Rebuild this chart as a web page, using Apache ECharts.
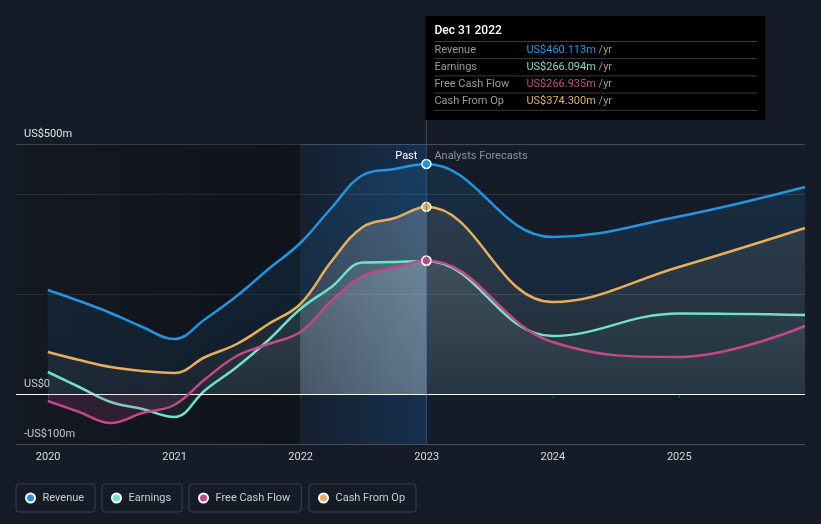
<!DOCTYPE html>
<html><head><meta charset="utf-8">
<script src="https://cdn.jsdelivr.net/npm/echarts@6/dist/echarts.min.js"></script>
<style>html,body{margin:0;padding:0;background:#161c27;}#c{width:821px;height:524px;}</style>
</head><body><div id="c"></div>
<script>
// ---- data ----
const dates = ['2019-12-31','2020-03-31','2020-06-30','2020-09-30','2020-12-31','2021-03-31','2021-06-30','2021-09-30','2021-12-31','2022-03-31','2022-06-30','2022-09-30','2022-12-31','2023-12-31','2024-12-31','2025-12-31'];
const revenue      = [208, 186, 162, 134, 110, 150, 196, 250, 302, 372, 438, 450, 460.113, 314, 355, 414];
const earnings     = [44, 14, -16, -30, -46, 8, 54, 108, 170, 214, 263, 264, 266.094, 116, 161, 158];
const freeCashFlow = [-14, -36, -58, -38, -22, 30, 76, 100, 124, 186, 236, 252, 266.935, 104, 74, 136];
const cashFromOp   = [84, 68, 54, 46, 42, 74, 100, 140, 180, 265, 334, 352, 374.3, 184, 254, 332];
const seriesNames = ['Revenue', 'Earnings', 'Free Cash Flow', 'Cash From Op'];
const xTickYears = [2020, 2021, 2022, 2023, 2024, 2025];
const yLabelMap = {'-100': '-US$100m', '0': 'US$0', '500': 'US$500m'};
const axisStart = '2019-09-30', axisEnd = '2025-12-31';
const bandStart = '2022-01-01', pastEnd = '2022-12-31';
const pastIdx = dates.indexOf(pastEnd);

// ---- helpers ----
const t = s => +new Date(s + 'T00:00:00');
const t0 = t(dates[0]), tN = t(dates[dates.length - 1]);
const f1 = (t(bandStart) - t0) / (tN - t0), f2 = (t(pastEnd) - t0) / (tN - t0);
function hgrad(b1, b2) {
  const none = 'rgba(255,255,255,0)';
  return new echarts.graphic.LinearGradient(0, 0, 1, 0, [
    {offset: 0, color: none}, {offset: f1 - 0.001, color: none},
    {offset: f1, color: b1}, {offset: f2, color: b2},
    {offset: Math.min(1, f2 + 0.001), color: none}, {offset: 1, color: none}]);
}
function vgrad(arr, top, mid, neg) {
  const mx = Math.max(0, ...arr), mn = Math.min(0, ...arr);
  const z = (mx - 0) / (mx - mn);
  const stops = [{offset: 0, color: top}, {offset: z, color: mid}];
  if (z < 1) { stops.push({offset: z + 0.0001, color: neg}, {offset: 1, color: neg}); }
  return new echarts.graphic.LinearGradient(0, 0, 0, 1, stops);
}
const C = {rev: '#2394e0', ern: '#6fe3c8', fcf: '#c4478a', cfo: '#e8ae5c'};
const pts = arr => dates.map((d, i) => [t(d), arr[i]]);
function mk(name, arr, color, area, z) {
  return {
    name, type: 'line', z, data: pts(arr),
    smooth: 0.4, symbol: 'circle', showAllSymbol: true,
    symbolSize: (v, p) => p.dataIndex === pastIdx ? 9 : 0,
    lineStyle: {color, width: 2.5},
    itemStyle: {color, borderColor: '#ffffff', borderWidth: 1.5},
    areaStyle: {color: area, opacity: 1},
    emphasis: {disabled: true}, silent: true
  };
}
function band(id, arr, area, z) {
  return {name: id, type: 'line', z, data: pts(arr), smooth: 0.4, symbol: 'none',
    lineStyle: {width: 0, opacity: 0}, areaStyle: {color: area, opacity: 1}, silent: true, emphasis: {disabled: true}};
}

const chart = echarts.init(document.getElementById('c'));
const legendLefts = [16, 102, 189, 309];
const yearTicks = xTickYears.map(y => t(y + '-01-01'));
const option = {
  backgroundColor: '#161c27',
  animation: false,
  textStyle: {fontFamily: 'Roboto, sans-serif'},
  grid: {left: 16, right: 16, top: 144, bottom: 80},
  xAxis: {
    type: 'value', min: t(axisStart), max: t(axisEnd),
    axisLine: {show: false},
    axisTick: {show: true, length: 4, lineStyle: {color: '#4a505b'}, customValues: yearTicks},
    axisLabel: {color: '#d8dadd', fontSize: 11, margin: 8, customValues: yearTicks,
      formatter: v => String(new Date(v).getFullYear())},
    splitLine: {show: false}
  },
  yAxis: {
    type: 'value', min: -100, max: 500, interval: 100,
    axisLine: {show: false}, axisTick: {show: false},
    axisLabel: {inside: true, margin: 8, verticalAlign: 'bottom', padding: [0, 0, 4, 0], color: '#dfe1e4', fontSize: 11,
      formatter: v => yLabelMap[String(v)] || ''},
    splitLine: {show: true, lineStyle: {width: 1, color: ['#464c57', 'transparent', 'transparent', '#30363f', 'transparent', '#30363f', '#464c57']}}
  },
  legend: seriesNames.map((n, i) => ({
    left: legendLefts[i], top: 484, data: [n], icon: 'circle', itemWidth: 14, itemHeight: 9,
    padding: [7, 11, 7, 9], borderColor: '#3a404b', borderWidth: 1, borderRadius: 3,
    selectedMode: false, textStyle: {color: '#c9ccd1', fontSize: 11, lineHeight: 14}
  })),
  series: [
    {type: 'line', data: [], z: 1, silent: true,
      markArea: {silent: true, data: [
        [{xAxis: t(axisStart), itemStyle: {color: new echarts.graphic.LinearGradient(0, 0, 1, 0, [{offset: 0, color: 'rgba(0,0,0,0.12)'}, {offset: 1, color: 'rgba(0,0,0,0.32)'}])}}, {xAxis: t(bandStart)}],
        [{xAxis: t(bandStart), itemStyle: {color: new echarts.graphic.LinearGradient(0, 0, 1, 0, [{offset: 0, color: 'rgba(20,110,200,0.05)'}, {offset: 1, color: 'rgba(20,110,200,0.24)'}])}}, {xAxis: t(pastEnd)}]
      ]}},
    mk('Revenue', revenue, C.rev, vgrad(revenue, 'rgba(35,148,224,0.14)', 'rgba(35,148,224,0.07)', 'rgba(0,0,0,0)'), 2),
    mk('Cash From Op', cashFromOp, C.cfo, vgrad(cashFromOp, 'rgba(225,205,180,0.11)', 'rgba(225,205,180,0.04)', 'rgba(0,0,0,0)'), 3),
    mk('Earnings', earnings, C.ern, vgrad(earnings, 'rgba(111,227,200,0.07)', 'rgba(111,227,200,0.03)', 'rgba(111,227,200,0.06)'), 4),
    mk('Free Cash Flow', freeCashFlow, C.fcf, vgrad(freeCashFlow, 'rgba(215,180,205,0.10)', 'rgba(215,180,205,0.03)', 'rgba(196,71,138,0.16)'), 5),
    band('_bandCfo', cashFromOp, hgrad('rgba(220,228,238,0.08)', 'rgba(220,228,238,0.14)'), 3),
    band('_bandErn', earnings, hgrad('rgba(220,235,238,0.05)', 'rgba(220,235,238,0.09)'), 4),
    band('_bandFcf', freeCashFlow, hgrad('rgba(230,225,235,0.05)', 'rgba(230,225,235,0.09)'), 5),
    {type: 'line', data: [], z: 6, silent: true,
      markLine: {silent: true, symbol: 'none', label: {show: false}, lineStyle: {color: '#ffffff', width: 1, type: 'solid'},
        data: [{yAxis: 0}]}}
  ]
};
chart.setOption(option);

// ---- annotations: past/forecast labels and the tooltip box ----
const px = chart.convertToPixel({xAxisIndex: 0}, t(pastEnd));
const bx = chart.convertToPixel({xAxisIndex: 0}, t(bandStart));
const topY = chart.convertToPixel({yAxisIndex: 0}, 500);
const botY = chart.convertToPixel({yAxisIndex: 0}, -100);
const d = new Date(t(pastEnd));
const mon = ['Jan','Feb','Mar','Apr','May','Jun','Jul','Aug','Sep','Oct','Nov','Dec'][d.getMonth()];
const title = mon + ' ' + d.getDate() + ' ' + d.getFullYear();
const rows = [
  ['Revenue', revenue[pastIdx], C.rev],
  ['Earnings', earnings[pastIdx], C.ern],
  ['Free Cash Flow', freeCashFlow[pastIdx], C.fcf],
  ['Cash From Op', cashFromOp[pastIdx], C.cfo]
];
const boxX = px - 1, boxY = 16;
const g = [
  {type: 'line', z: 50, silent: true, shape: {x1: px, y1: boxY, x2: px, y2: botY}, style: {stroke: 'rgba(60,110,160,0.55)', lineWidth: 1}},
  {type: 'line', z: 1, silent: true, shape: {x1: bx, y1: topY, x2: bx, y2: botY}, style: {stroke: 'rgba(255,255,255,0.05)', lineWidth: 1}},
  {type: 'rect', z: 100, silent: true, shape: {x: boxX, y: boxY, width: 340, height: 104}, style: {fill: '#000000'}},
  {type: 'text', z: 101, silent: true, x: boxX + 9, y: boxY + 15, style: {text: title, fill: '#ffffff', fontSize: 12, fontWeight: 500, fontFamily: 'Roboto, sans-serif', verticalAlign: 'middle'}},
  {type: 'text', z: 60, silent: true, x: px - 9, y: topY + 12, style: {text: 'Past', fill: '#ffffff', fontSize: 11, fontFamily: 'Roboto, sans-serif', align: 'right', verticalAlign: 'middle'}},
  {type: 'text', z: 60, silent: true, x: px + 8, y: topY + 12, style: {text: 'Analysts Forecasts', fill: '#8c9199', fontSize: 11, fontFamily: 'Roboto, sans-serif', align: 'left', verticalAlign: 'middle'}}
];
for (let i = 0; i <= rows.length; i++) {
  const ly = boxY + 25.5 + i * 17.2;
  g.push({type: 'line', z: 101, silent: true, shape: {x1: boxX + 9, y1: ly, x2: boxX + 332, y2: ly}, style: {stroke: '#3a3a3a', lineWidth: 1}});
}
rows.forEach((r, i) => {
  const cy = boxY + 34 + i * 17.2;
  g.push({type: 'text', z: 101, silent: true, x: boxX + 9, y: cy, style: {text: r[0], fill: '#9a9a9a', fontSize: 11, fontFamily: 'Roboto, sans-serif', verticalAlign: 'middle'}});
  g.push({type: 'text', z: 101, silent: true, x: boxX + 101, y: cy, style: {
    text: '{v|US$' + r[1].toFixed(3) + 'm} {u|/yr}', fontSize: 11, fontFamily: 'Roboto, sans-serif', verticalAlign: 'middle',
    rich: {v: {fill: r[2], fontSize: 11, fontFamily: 'Roboto, sans-serif'}, u: {fill: '#9a9a9a', fontSize: 11, fontFamily: 'Roboto, sans-serif'}}}});
});
chart.setOption({graphic: g});
</script></body></html>
